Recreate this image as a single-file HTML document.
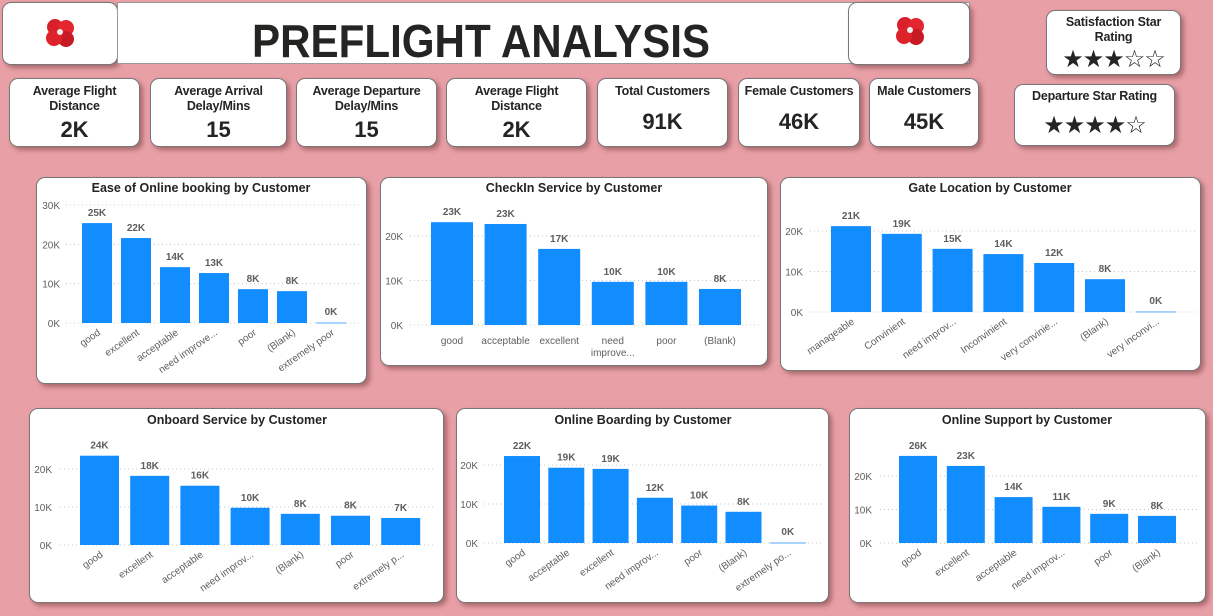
<!DOCTYPE html>
<html><head><meta charset="utf-8">
<style>
body{margin:0;width:1213px;height:616px;background:#e8a0a6;font-family:"Liberation Sans",sans-serif;position:relative;overflow:hidden}
.card{position:absolute;background:#fff;border-radius:9px;border:1px solid #777;box-shadow:3px 3px 5px rgba(90,40,45,.45);box-sizing:border-box}
.kt{font-size:12.5px;font-weight:bold;color:#252423;text-align:center;line-height:15px;margin-top:5px;letter-spacing:-0.2px;white-space:nowrap}
.kv{font-size:22px;font-weight:bold;color:#252423;text-align:center;position:absolute;left:0;right:0}
.stars{font-size:24px;color:#252423;text-align:center;position:absolute;left:0;right:0;letter-spacing:-1px}
svg{position:absolute;left:0;top:0}
</style></head><body>
<div class="card" style="left:2px;top:2px;width:116px;height:63px"></div>
<div class="card" style="left:117px;top:2px;width:853px;height:62px;border-radius:0;box-shadow:none;border-color:#999"></div>
<div class="card" style="left:848px;top:2px;width:122px;height:63px"></div>
<svg width="1213" height="70">
<text x="252" y="57" textLength="458" lengthAdjust="spacingAndGlyphs" font-size="46" font-weight="bold" fill="#252423" font-family="Liberation Sans, sans-serif">PREFLIGHT ANALYSIS</text>
<g transform="translate(60,32)"><circle r="8" cx="-5" cy="-5" fill="#d9202a"/><circle r="8" cx="6" cy="-4" fill="#e3262f"/><circle r="8" cx="6" cy="7" fill="#c81a24"/><circle r="8" cx="-6" cy="6" fill="#dd2229"/><circle r="3" fill="#eee"/></g>
<g transform="translate(910,30)"><circle r="8" cx="-5" cy="-5" fill="#d9202a"/><circle r="8" cx="6" cy="-4" fill="#e3262f"/><circle r="8" cx="6" cy="7" fill="#c81a24"/><circle r="8" cx="-6" cy="6" fill="#dd2229"/><circle r="3" fill="#eee"/></g>
</svg>

<div class="card" style="left:9px;top:78px;width:131px;height:69px"><div class="kt">Average Flight<br>Distance</div><div class="kv" style="top:38px">2K</div></div>
<div class="card" style="left:150px;top:78px;width:137px;height:69px"><div class="kt">Average Arrival<br>Delay/Mins</div><div class="kv" style="top:38px">15</div></div>
<div class="card" style="left:296px;top:78px;width:141px;height:69px"><div class="kt">Average Departure<br>Delay/Mins</div><div class="kv" style="top:38px">15</div></div>
<div class="card" style="left:446px;top:78px;width:141px;height:69px"><div class="kt">Average Flight<br>Distance</div><div class="kv" style="top:38px">2K</div></div>
<div class="card" style="left:597px;top:78px;width:131px;height:69px"><div class="kt">Total Customers</div><div class="kv" style="top:30px">91K</div></div>
<div class="card" style="left:738px;top:78px;width:122px;height:69px"><div class="kt">Female Customers</div><div class="kv" style="top:30px">46K</div></div>
<div class="card" style="left:869px;top:78px;width:110px;height:69px"><div class="kt">Male Customers</div><div class="kv" style="top:30px">45K</div></div>
<div class="card" style="left:1046px;top:10px;width:135px;height:65px"><div class="kt" style="margin-top:4px">Satisfaction Star<br>Rating</div><div class="stars" style="top:34px">★★★☆☆</div></div>
<div class="card" style="left:1014px;top:84px;width:161px;height:62px"><div class="kt" style="margin-top:4px">Departure Star Rating</div><div class="stars" style="top:26px">★★★★☆</div></div>

<div class="card" style="left:36px;top:177px;width:331px;height:207px"></div>
<div class="card" style="left:380px;top:177px;width:388px;height:189px"></div>
<div class="card" style="left:780px;top:177px;width:421px;height:194px"></div>
<div class="card" style="left:29px;top:408px;width:415px;height:195px"></div>
<div class="card" style="left:456px;top:408px;width:373px;height:195px"></div>
<div class="card" style="left:849px;top:408px;width:357px;height:195px"></div>

<svg id="charts" width="1213" height="616"></svg>
<script>
const bookingCats=["good","excellent","acceptable","need improve...","poor","(Blank)","extremely poor"];
const bookingVals=[25.4,21.6,14.2,12.7,8.6,8.1,0.2];
const bookingLabels=["25K","22K","14K","13K","8K","8K","0K"];
const checkinCats=["good","acceptable","excellent","need improve...","poor","(Blank)"];
const checkinVals=[23.1,22.7,17.1,9.7,9.7,8.1];
const checkinLabels=["23K","23K","17K","10K","10K","8K"];
const gateCats=["manageable","Convinient","need improv...","Inconvinient","very convinie...","(Blank)","very inconvi..."];
const gateVals=[21.2,19.3,15.6,14.3,12.1,8.1,0.2];
const gateLabels=["21K","19K","15K","14K","12K","8K","0K"];
const onboardCats=["good","excellent","acceptable","need improv...","(Blank)","poor","extremely p..."];
const onboardVals=[23.5,18.2,15.6,9.8,8.2,7.7,7.1];
const onboardLabels=["24K","18K","16K","10K","8K","8K","7K"];
const boardingCats=["good","acceptable","excellent","need improv...","poor","(Blank)","extremely po..."];
const boardingVals=[22.3,19.3,19.0,11.6,9.6,8.0,0.2];
const boardingLabels=["22K","19K","19K","12K","10K","8K","0K"];
const supportCats=["good","excellent","acceptable","need improv...","poor","(Blank)"];
const supportVals=[26.0,23.0,13.7,10.8,8.7,8.1];
const supportLabels=["26K","23K","14K","11K","9K","8K"];
const ticks3=[0,10,20,30];
const ticks2=[0,10,20];

const NS="http://www.w3.org/2000/svg";
const root=document.getElementById('charts');
function mk(tag,attrs,parent,text){const e=document.createElementNS(NS,tag);for(const k in attrs)e.setAttribute(k,attrs[k]);if(text!==undefined)e.textContent=text;parent.appendChild(e);return e;}

function chart(o,cats,vals,labels,ticks){
  const g=mk('g',{},root);
  
  
  const t=mk('text',{x:o.tx,y:o.ty,'text-anchor':'middle','font-size':12.5,'font-weight':'bold',fill:'#252423'},g,o.title);
  
  
  const y=v=>o.y0-(v/o.yref)*(o.y0-o.yTop);
  const x=i=>o.x0+i*o.pitch;
  ticks.forEach(tk=>{
    const l=mk('line',{x1:o.gx1,x2:o.gx2,y1:y(tk),y2:y(tk),stroke:'#c8c8c8','stroke-dasharray':'1 3'},g);
    
    
    const tl=mk('text',{x:o.axx,y:y(tk)+4,'text-anchor':'end','font-size':10,fill:'#605e5c'},g,tk+'K');
    
    
  });
  cats.forEach((c,i)=>{
    const top=y(vals[i]);
    const b=mk('rect',{x:x(i),y:top,width:o.bw,height:Math.max(1.5,o.y0-top),fill:vals[i]<1?'#8cc4ff':'#118dff'},g);
    
    
    const dl=mk('text',{x:x(i)+o.bw/2,y:Math.min(top,o.y0-1)-7,'text-anchor':'middle','font-size':10,'font-weight':'bold',fill:'#605e5c'},g,labels[i]);
    
    
    let xl;
    if(o.flat){
      const parts=c.indexOf(' ')>0&&c.length>10?c.split(' '):[c];
      xl=mk('text',{x:x(i)+o.bw/2,y:o.y0+19,'text-anchor':'middle','font-size':10,fill:'#605e5c'},g);
      parts.forEach((p,j)=>mk('tspan',{x:x(i)+o.bw/2,dy:j?12:0},xl,p));
    } else {
      const ax=x(i)+o.bw/2+4, ay=o.y0+11;
      xl=mk('text',{x:ax,y:ay,'text-anchor':'end','font-size':10,fill:'#605e5c',transform:`rotate(-35 ${ax} ${ay})`},g,c);
    }
    
    
  });
}
chart({name:'chart-online-booking',title:'Ease of Online booking by Customer',tx:201,ty:192,y0:323,yTop:205,yref:30,x0:82,pitch:39,bw:30,gx1:66,gx2:360,axx:60},bookingCats,bookingVals,bookingLabels,ticks3);
chart({name:'chart-checkin',title:'CheckIn Service by Customer',tx:574,ty:192,y0:325,yTop:236,yref:20,x0:431,pitch:53.6,bw:42,gx1:410,gx2:760,axx:403,flat:true},checkinCats,checkinVals,checkinLabels,ticks2);
chart({name:'chart-gate-location',title:'Gate Location by Customer',tx:990,ty:192,y0:312,yTop:231,yref:20,x0:831,pitch:50.8,bw:40,gx1:810,gx2:1195,axx:803},gateCats,gateVals,gateLabels,ticks2);
chart({name:'chart-onboard-service',title:'Onboard Service by Customer',tx:237,ty:424,y0:545,yTop:469,yref:20,x0:80,pitch:50.2,bw:39,gx1:60,gx2:436,axx:52},onboardCats,onboardVals,onboardLabels,ticks2);
chart({name:'chart-online-boarding',title:'Online Boarding by Customer',tx:643,ty:424,y0:543,yTop:465,yref:20,x0:504,pitch:44.3,bw:36,gx1:484,gx2:822,axx:478},boardingCats,boardingVals,boardingLabels,ticks2);
chart({name:'chart-online-support',title:'Online Support by Customer',tx:1027,ty:424,y0:543,yTop:476,yref:20,x0:899,pitch:47.8,bw:38,gx1:880,gx2:1200,axx:872},supportCats,supportVals,supportLabels,ticks2);
</script>
</body></html>
